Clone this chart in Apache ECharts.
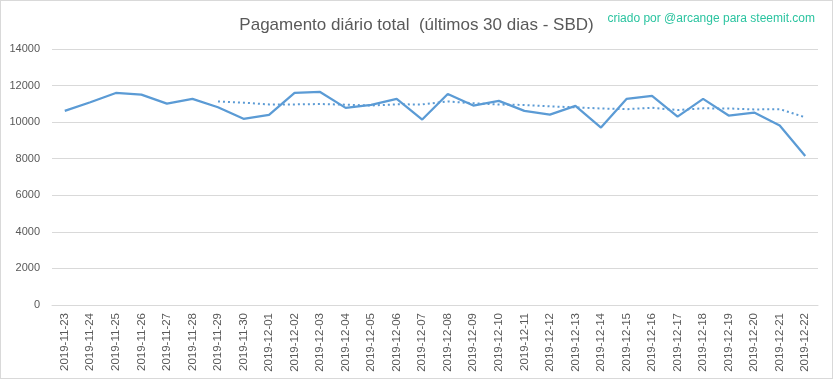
<!DOCTYPE html>
<html>
<head>
<meta charset="utf-8">
<script src="https://cdn.jsdelivr.net/npm/echarts@6/dist/echarts.min.js"></script>
<style>
html,body{margin:0;padding:0;background:#fff;}
#c{width:831px;height:377px;border:1px solid #D9D9D9;}
</style>
</head>
<body>
<div id="c"></div>
<script>
const categories = ["2019-11-23","2019-11-24","2019-11-25","2019-11-26","2019-11-27","2019-11-28","2019-11-29","2019-11-30","2019-12-01","2019-12-02","2019-12-03","2019-12-04","2019-12-05","2019-12-06","2019-12-07","2019-12-08","2019-12-09","2019-12-10","2019-12-11","2019-12-12","2019-12-13","2019-12-14","2019-12-15","2019-12-16","2019-12-17","2019-12-18","2019-12-19","2019-12-20","2019-12-21","2019-12-22"];
const dailyPayout = [10616,11090,11597,11504,11014,11270,10817,10180,10398,11597,11651,10779,10943,11270,10142,11542,10905,11161,10616,10414,10888,9706,11270,11433,10305,11270,10360,10523,9815,8147];
const movingAvg = [null,null,null,null,null,null,11130,11067,10969,10969,10990,10956,10909,10974,10969,11132,11033,10963,10940,10864,10810,10747,10709,10784,10662,10755,10747,10695,10711,10265];
const yTicks = {min:0, max:14000, interval:2000};
const titleText = "Pagamento diário total  (últimos 30 dias - SBD)";
const creditText = "criado por @arcange para steemit.com";

const chart = echarts.init(document.getElementById('c'));
const font = "'Liberation Sans', Arial, sans-serif";
chart.setOption({
  animation:false,
  backgroundColor:'#fff',
  title:[
    {text:titleText, left:'center', top:11, textStyle:{fontFamily:font, fontSize:17, fontWeight:'normal', color:'#595959'}},
    {text:creditText, right:12, top:7, textStyle:{fontFamily:font, fontSize:12, fontWeight:'normal', color:'#2BC4A0'}}
  ],
  grid:{left:51, right:14, top:48, bottom:73, containLabel:false},
  xAxis:{
    type:'category', data:categories, boundaryGap:true,
    axisLine:{lineStyle:{color:'#D9D9D9'}},
    axisTick:{show:false},
    axisLabel:{rotate:90, interval:0, color:'#595959', fontFamily:font, fontSize:11.5, margin:8}
  },
  yAxis:{
    type:'value', min:yTicks.min, max:yTicks.max, interval:yTicks.interval,
    axisLine:{show:false}, axisTick:{show:false},
    splitLine:{lineStyle:{color:'#D9D9D9'}},
    axisLabel:{color:'#595959', fontFamily:font, fontSize:11, margin:12, formatter:function(v){return String(v);}}
  },
  series:[
    {type:'line', data:dailyPayout, symbol:'none', lineStyle:{color:'#5B9BD5', width:2.25}, itemStyle:{color:'#5B9BD5'}},
    {type:'line', data:movingAvg, symbol:'none', lineStyle:{color:'#5B9BD5', width:2, type:[2,3]}, itemStyle:{color:'#5B9BD5'}}
  ]
});
</script>
</body>
</html>
